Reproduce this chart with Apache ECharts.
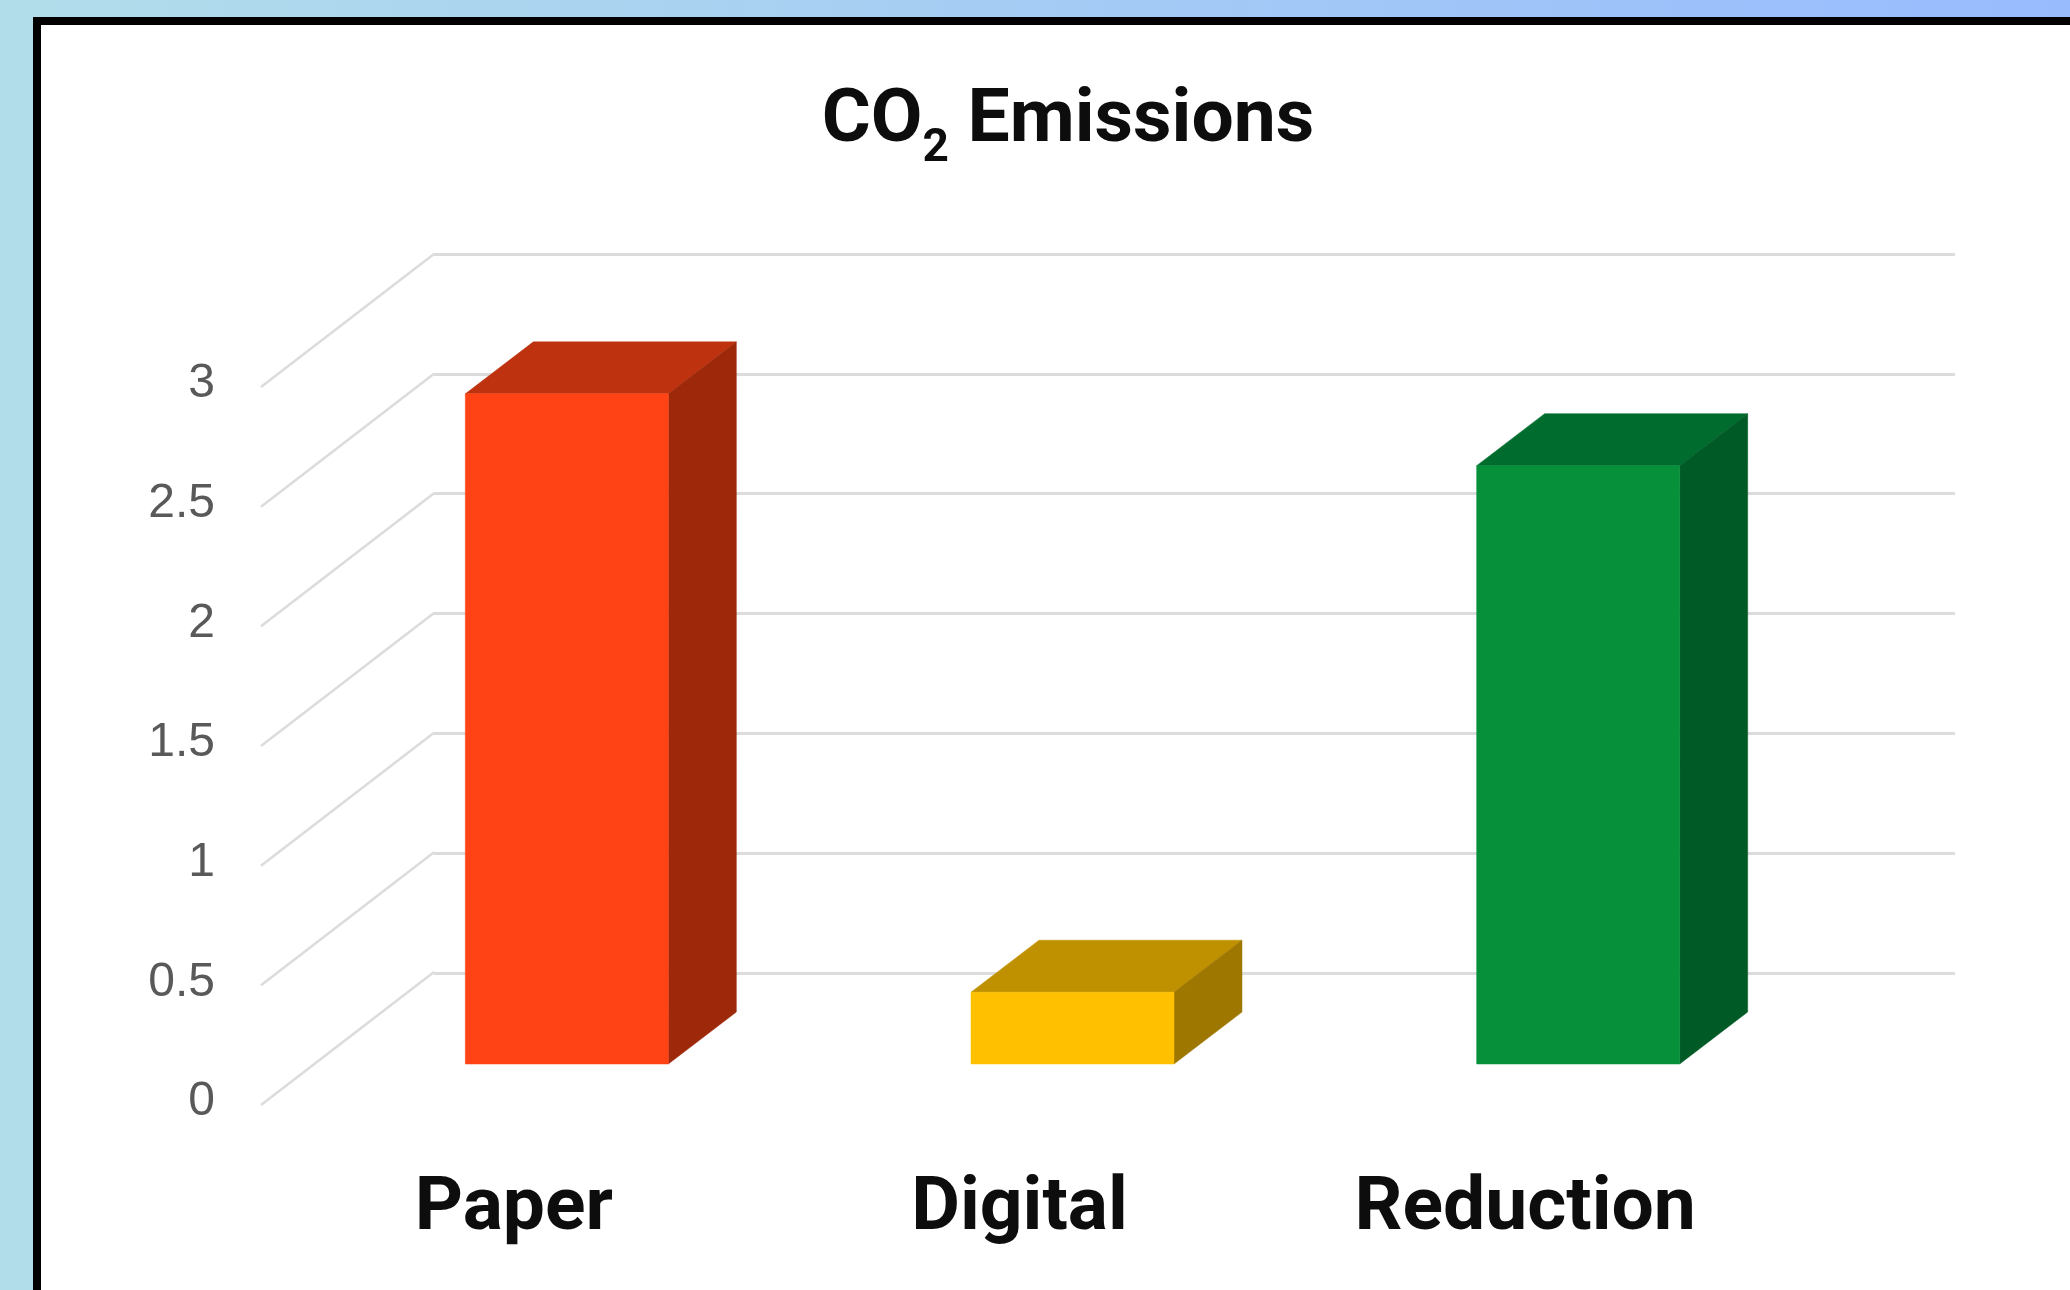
<!DOCTYPE html>
<html>
<head>
<meta charset="utf-8">
<style>html,body{margin:0;padding:0;background:#fff}#chart{width:2070px;height:1290px}</style>
<script src="https://cdn.jsdelivr.net/npm/echarts@6/dist/echarts.min.js"></script>
</head>
<body>
<div id="chart"></div>
<script>
// CO2 emissions by option, drawn as an oblique-projected 3D column chart.
const categories = ['Paper', 'Digital', 'Reduction'];
const emissions = [2.8, 0.3, 2.5];
const tickValues = [0, 0.5, 1, 1.5, 2, 2.5, 3];

const frontColors = ['#FF4314', '#FFC000', '#07903A'];
const topColors = ['#BE3210', '#BF9000', '#006C2E'];
const sideColors = ['#9E280A', '#9E7700', '#005A26'];

// Oblique projection: offset from a plane toward the back wall.
const wallDepth = { dx: 173, dy: -133 };
const barDepth = { dx: 68, dy: -52 };
const barWidth = 203;
const gridColor = '#DCDCDC';
const headingFont = 'Roboto, "Liberation Sans", sans-serif';

const chart = echarts.init(document.getElementById('chart'), null, { renderer: 'canvas' });

function poly(points, fill) {
  return { type: 'polygon', shape: { points }, style: { fill, stroke: fill, lineWidth: 0.5 } };
}

chart.setOption({
  animation: false,
  backgroundColor: {
    type: 'linear', x: 0, y: 0, x2: 1, y2: 0,
    colorStops: [{ offset: 0, color: '#B1DDEA' }, { offset: 1, color: '#98BBFE' }]
  },
  graphic: [{
    type: 'rect', z: -1, silent: true,
    shape: { x: 37, y: 21, width: 2100, height: 1340 },
    style: { fill: '#fff', stroke: '#000', lineWidth: 8 }
  }],
  title: {
    text: '{main|CO}{sub|2}{main| Emissions}', left: 1063, top: 67, textAlign: 'center',
    textStyle: {
      rich: {
        main: { fontFamily: headingFont, fontWeight: 'bold', fontSize: 75, lineHeight: 100, color: '#0D0D0D', verticalAlign: 'middle' },
        sub: { fontFamily: headingFont, fontWeight: 'bold', fontSize: 46, lineHeight: 50, color: '#0D0D0D', verticalAlign: 'bottom' }
      }
    }
  },
  grid: [
    // back wall, carries the horizontal gridlines
    { left: 434, width: 1521, top: 254, height: 719 },
    // front plane, carries the tick and category labels
    { left: 261, width: 1517, top: 387, height: 718 },
    // plane that the column faces stand on
    { left: 314, width: 1517, top: 346, height: 718 }
  ],
  xAxis: [
    { gridIndex: 0, type: 'category', data: categories, axisLine: { show: false }, axisTick: { show: false }, axisLabel: { show: false } },
    { gridIndex: 1, type: 'category', data: categories, axisLine: { show: false }, axisTick: { show: false },
      axisLabel: { margin: 68, fontFamily: headingFont, fontWeight: 'bold', fontSize: 75, color: '#0D0D0D' } },
    { gridIndex: 2, type: 'category', data: categories, axisLine: { show: false }, axisTick: { show: false }, axisLabel: { show: false } }
  ],
  yAxis: [
    { gridIndex: 0, type: 'value', min: 0, max: 3, interval: 0.5, axisLine: { show: false }, axisTick: { show: false },
      axisLabel: { show: false }, splitLine: { show: true, lineStyle: { color: gridColor, width: 3 } } },
    { gridIndex: 1, type: 'value', min: 0, max: 3, interval: 0.5, axisLine: { show: false }, axisTick: { show: false },
      axisLabel: { margin: 46, verticalAlign: 'bottom', lineHeight: 6, fontFamily: '"Liberation Sans", sans-serif', fontSize: 48, color: '#595959' }, splitLine: { show: false } },
    { gridIndex: 2, type: 'value', min: 0, max: 3, interval: 0.5, axisLine: { show: false }, axisTick: { show: false },
      axisLabel: { show: false }, splitLine: { show: false } }
  ],
  series: [
    {
      // slanted floor and wall lines running from the front plane to the back wall
      type: 'custom', xAxisIndex: 1, yAxisIndex: 1, z: 1, silent: true, clip: false,
      data: tickValues,
      encode: { y: 0 },
      renderItem(params, api) {
        const p = api.coord([0, api.value(0)]);
        const x0 = params.coordSys.x;
        return {
          type: 'line',
          shape: { x1: x0, y1: p[1], x2: x0 + wallDepth.dx, y2: p[1] + wallDepth.dy },
          style: { stroke: gridColor, lineWidth: 2.5 }
        };
      }
    },
    {
      // each column: front, top and side faces
      type: 'custom', xAxisIndex: 2, yAxisIndex: 2, z: 3, silent: true, clip: false,
      data: emissions.map((v, i) => [i, v]),
      encode: { x: 0, y: 1 },
      renderItem(params, api) {
        const i = api.value(0);
        const top = api.coord([i, api.value(1)]);
        const base = api.coord([i, 0]);
        const l = top[0] - barWidth / 2, r = top[0] + barWidth / 2;
        const d = barDepth;
        return {
          type: 'group',
          children: [
            poly([[l, top[1]], [r, top[1]], [r + d.dx, top[1] + d.dy], [l + d.dx, top[1] + d.dy]], topColors[i]),
            poly([[r, top[1]], [r + d.dx, top[1] + d.dy], [r + d.dx, base[1] + d.dy], [r, base[1]]], sideColors[i]),
            poly([[l, top[1]], [r, top[1]], [r, base[1]], [l, base[1]]], frontColors[i])
          ]
        };
      }
    }
  ]
});
</script>
</body>
</html>
